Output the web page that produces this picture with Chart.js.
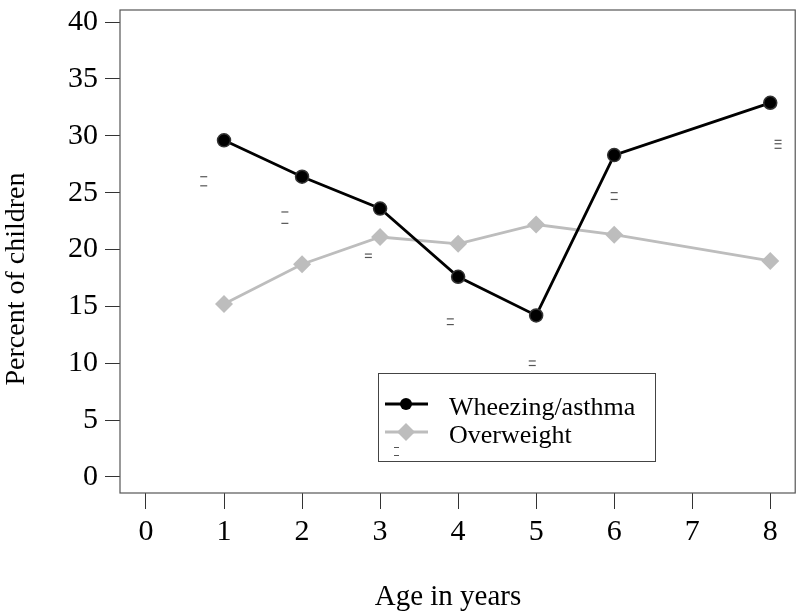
<!DOCTYPE html>
<html><head><meta charset="utf-8">
<script src="https://cdn.jsdelivr.net/npm/chart.js@4"></script>
<style>html,body{margin:0;padding:0;background:#fff}#wrap{width:800px;height:615px}</style>
</head><body><div id="wrap"><canvas id="c" width="800" height="615"></canvas></div>
<script>
const ages = [1, 2, 3, 4, 5, 6, 8];
const wheezing = [29.6, 26.4, 23.6, 17.6, 14.2, 28.3, 32.9];
const overweight = [15.2, 18.7, 21.1, 20.5, 22.2, 21.3, 19.0];
const xTickValues = [0, 1, 2, 3, 4, 5, 6, 7, 8];
const xTickLabels = ['0', '1', '2', '3', '4', '5', '6', '7', '8'];
const yTickValues = [0, 5, 10, 15, 20, 25, 30, 35, 40];
const markX = [0.74, 0.74, 1.78, 1.78, 2.85, 2.85, 3.9, 3.9, 4.95, 4.95, 6.0, 6.0, 8.1, 8.1, 8.1];
const markY = [26.4, 25.6, 23.3, 22.3, 19.6, 19.3, 13.9, 13.4, 10.2, 9.8, 25.0, 24.4, 29.6, 29.3, 28.9];
const xTitle = 'Age in years';
const yTitle = 'Percent of children';
const legendLabels = ['Wheezing/asthma', 'Overweight'];

const FONT = '"Liberation Serif", "DejaVu Serif", serif';
const X_MIN = -0.333, X_BOX_MAX = 8.32;

const boxPlugin = {
  id: 'box',
  afterDraw(chart) {
    const {ctx, chartArea: a} = chart;
    const xs = chart.scales.x;
    const bl = xs.getPixelForValue(X_MIN), br = xs.getPixelForValue(X_BOX_MAX);
    ctx.save();
    ctx.strokeStyle = '#555';
    ctx.lineWidth = 1.2;
    ctx.strokeRect(bl, a.top, br - bl, a.bottom - a.top);
    // axis titles
    ctx.fillStyle = '#000';
    ctx.textAlign = 'center';
    ctx.textBaseline = 'middle';
    ctx.font = '29px ' + FONT;
    ctx.fillText(xTitle, 448, 597);
    ctx.save();
    ctx.translate(17, 279);
    ctx.rotate(-Math.PI / 2);
    ctx.font = '28px ' + FONT;
    ctx.fillText(yTitle, 0, 0);
    ctx.restore();
    // legend
    const lx = 378, ly = 373, lw = 277, lh = 88;
    ctx.fillStyle = '#fff';
    ctx.fillRect(lx, ly, lw, lh);
    ctx.strokeStyle = '#444';
    ctx.lineWidth = 1;
    ctx.strokeRect(lx + 0.5, ly + 0.5, lw, lh);
    // entry 1
    ctx.strokeStyle = '#000'; ctx.lineWidth = 3;
    ctx.beginPath(); ctx.moveTo(385, 404); ctx.lineTo(428, 404); ctx.stroke();
    ctx.fillStyle = '#000';
    ctx.beginPath(); ctx.arc(406, 404, 6, 0, Math.PI * 2); ctx.fill();
    // entry 2
    ctx.strokeStyle = '#bdbdbd'; ctx.lineWidth = 3;
    ctx.beginPath(); ctx.moveTo(385, 432); ctx.lineTo(428, 432); ctx.stroke();
    ctx.fillStyle = '#bdbdbd';
    ctx.beginPath(); ctx.moveTo(406, 423); ctx.lineTo(415, 432); ctx.lineTo(406, 441); ctx.lineTo(397, 432); ctx.closePath(); ctx.fill();
    // dashes
    ctx.strokeStyle = '#555'; ctx.lineWidth = 1;
    ctx.beginPath(); ctx.moveTo(394, 447.5); ctx.lineTo(399, 447.5); ctx.moveTo(394, 455.5); ctx.lineTo(399, 455.5); ctx.stroke();
    ctx.fillStyle = '#000';
    ctx.font = '26px ' + FONT;
    ctx.textAlign = 'left';
    ctx.fillText(legendLabels[0], 449, 408);
    ctx.fillText(legendLabels[1], 449, 436);
    ctx.restore();
  }
};

new Chart(document.getElementById('c'), {
  type: 'line',
  data: {
    datasets: [
      {
        label: legendLabels[0],
        data: ages.map((a, i) => ({x: a, y: wheezing[i]})),
        borderColor: '#000', backgroundColor: '#111', borderWidth: 2.8,
        pointStyle: 'circle', pointRadius: 6.5, pointBorderColor: '#333', pointBorderWidth: 1.5,
        pointBackgroundColor: '#000', order: 1, clip: 12
      },
      {
        label: legendLabels[1],
        data: ages.map((a, i) => ({x: a, y: overweight[i]})),
        borderColor: '#bdbdbd', backgroundColor: '#bdbdbd', borderWidth: 2.8,
        pointStyle: 'rectRot', pointRadius: 9, pointBorderWidth: 0,
        pointBackgroundColor: '#bdbdbd', order: 2, clip: 12
      },
      {
        label: 'marks',
        data: markX.map((x, i) => ({x: x, y: markY[i]})),
        showLine: false, borderColor: '#555', backgroundColor: '#555',
        pointStyle: 'line', pointRadius: 3.5, pointBorderWidth: 1.2, order: 3, clip: 12
      }
    ]
  },
  options: {
    responsive: false, animation: false,
    layout: {padding: {left: 0, right: 2, top: 10, bottom: 0}},
    plugins: {legend: {display: false}, tooltip: {enabled: false}},
    scales: {
      x: {
        type: 'linear', min: X_MIN, max: 8.266,
        afterBuildTicks(s) { s.ticks = xTickValues.map(v => ({value: v})); },
        afterFit(s) { s.height = 122; s.paddingLeft = 0; s.paddingRight = 0; },
        ticks: {
          callback: (v) => xTickLabels[xTickValues.indexOf(v)],
          font: {family: FONT, size: 30}, color: '#000', padding: 5, maxRotation: 0
        },
        grid: {drawOnChartArea: false, drawTicks: true, tickLength: 16, color: '#333', tickWidth: 1},
        border: {display: false},
        title: {display: false, text: xTitle}
      },
      y: {
        type: 'linear', min: -1.41, max: 41.06,
        afterBuildTicks(s) { s.ticks = yTickValues.map(v => ({value: v})); },
        afterFit(s) { s.width = 120; s.paddingTop = 0; s.paddingBottom = 0; },
        ticks: {font: {family: FONT, size: 30}, color: '#000', padding: 7},
        grid: {drawOnChartArea: false, drawTicks: true, tickLength: 15, color: '#333', tickWidth: 1},
        border: {display: false},
        title: {display: false, text: yTitle}
      }
    }
  },
  plugins: [boxPlugin]
});
</script>
</body></html>
